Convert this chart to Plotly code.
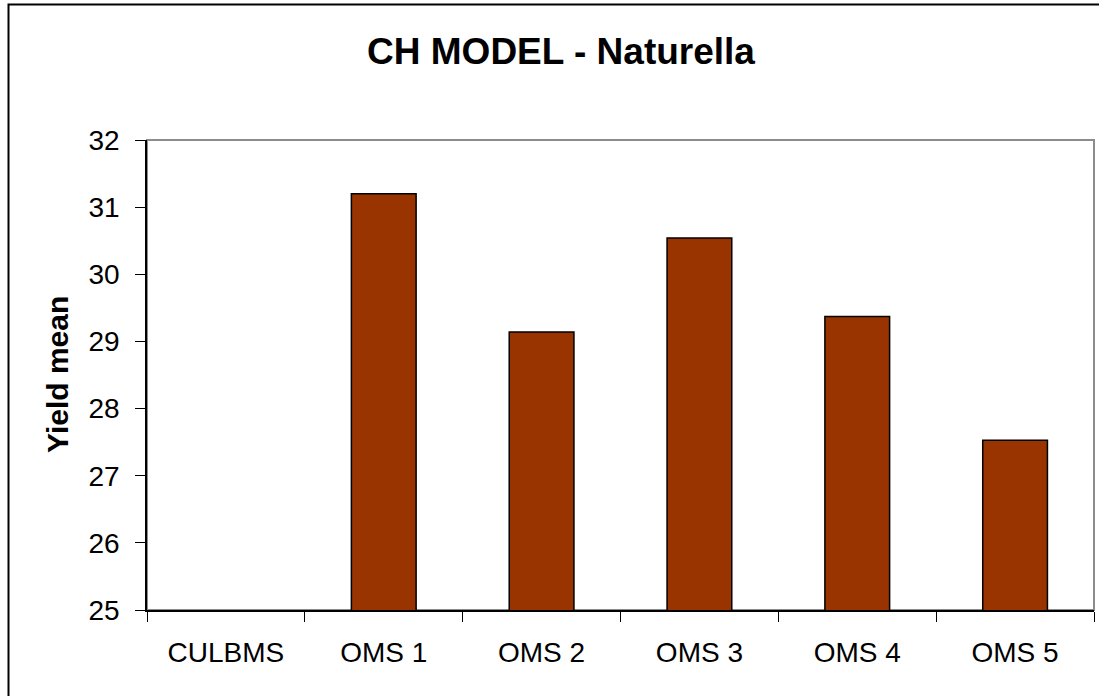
import plotly.graph_objects as go

categories = ["CULBMS", "OMS 1", "OMS 2", "OMS 3", "OMS 4", "OMS 5"]
yield_mean = [None, 31.20, 29.14, 30.54, 29.37, 27.53]
y_ticks = [25, 26, 27, 28, 29, 30, 31, 32]

W, H = 1099, 696
L, R, T, B = 147, 5, 140, 86
pw, ph = W - L - R, H - T - B

fig = go.Figure()
fig.add_trace(go.Bar(
    x=categories, y=yield_mean,
    marker=dict(color="#993300", line=dict(color="black", width=1.5)),
    width=0.41,
))

font = "Liberation Sans, Arial, sans-serif"

fig.update_layout(
    width=W, height=H,
    margin=dict(l=L, r=R, t=T, b=B, pad=0),
    paper_bgcolor="white", plot_bgcolor="white",
    showlegend=False,
    title=dict(text="<b>CH MODEL - Naturella</b>", x=561 / W, xref="container", xanchor="center",
               y=1 - 51 / H, yref="container", yanchor="middle",
               font=dict(family=font, size=37, color="black")),
    xaxis=dict(showline=True, linecolor="black", linewidth=1.5,
               ticks="outside", ticklen=10, tickcolor="black", tickwidth=1.2,
               tickson="boundaries", showgrid=False,
               tickfont=dict(family=font, size=28, color="black"),
               ticklabelstandoff=17),
    yaxis=dict(range=[25, 32], tickvals=y_ticks, showline=True, linecolor="black", linewidth=1.5,
               ticks="outside", ticklen=10, tickcolor="black", tickwidth=1.2,
               showgrid=False, zeroline=False,
               tickfont=dict(family=font, size=28, color="black"),
               ticklabelstandoff=10),
    annotations=[dict(text="<b>Yield mean</b>", textangle=-90, xref="paper", yref="paper",
                      x=(57 - L) / pw, y=0.5, xanchor="center", yanchor="middle", showarrow=False,
                      font=dict(family=font, size=30, color="black"))],
    shapes=[
        # plot area border (gray top/right)
        dict(type="rect", xref="paper", yref="paper", x0=0, x1=1, y0=0, y1=1,
             line=dict(color="#8c8c8c", width=2), layer="below"),
        # outer chart border
        dict(type="rect", xref="paper", yref="paper",
             x0=(8.5 - L) / pw, x1=(W + 20 - L) / pw,
             y0=-(H + 20 - (T + ph)) / ph, y1=(T + ph - 4.5) / ph,
             line=dict(color="black", width=2), layer="below"),
    ],
)

fig.write_html("out.html", config={"displayModeBar": False},
               post_script="document.body.style.margin='0';")
